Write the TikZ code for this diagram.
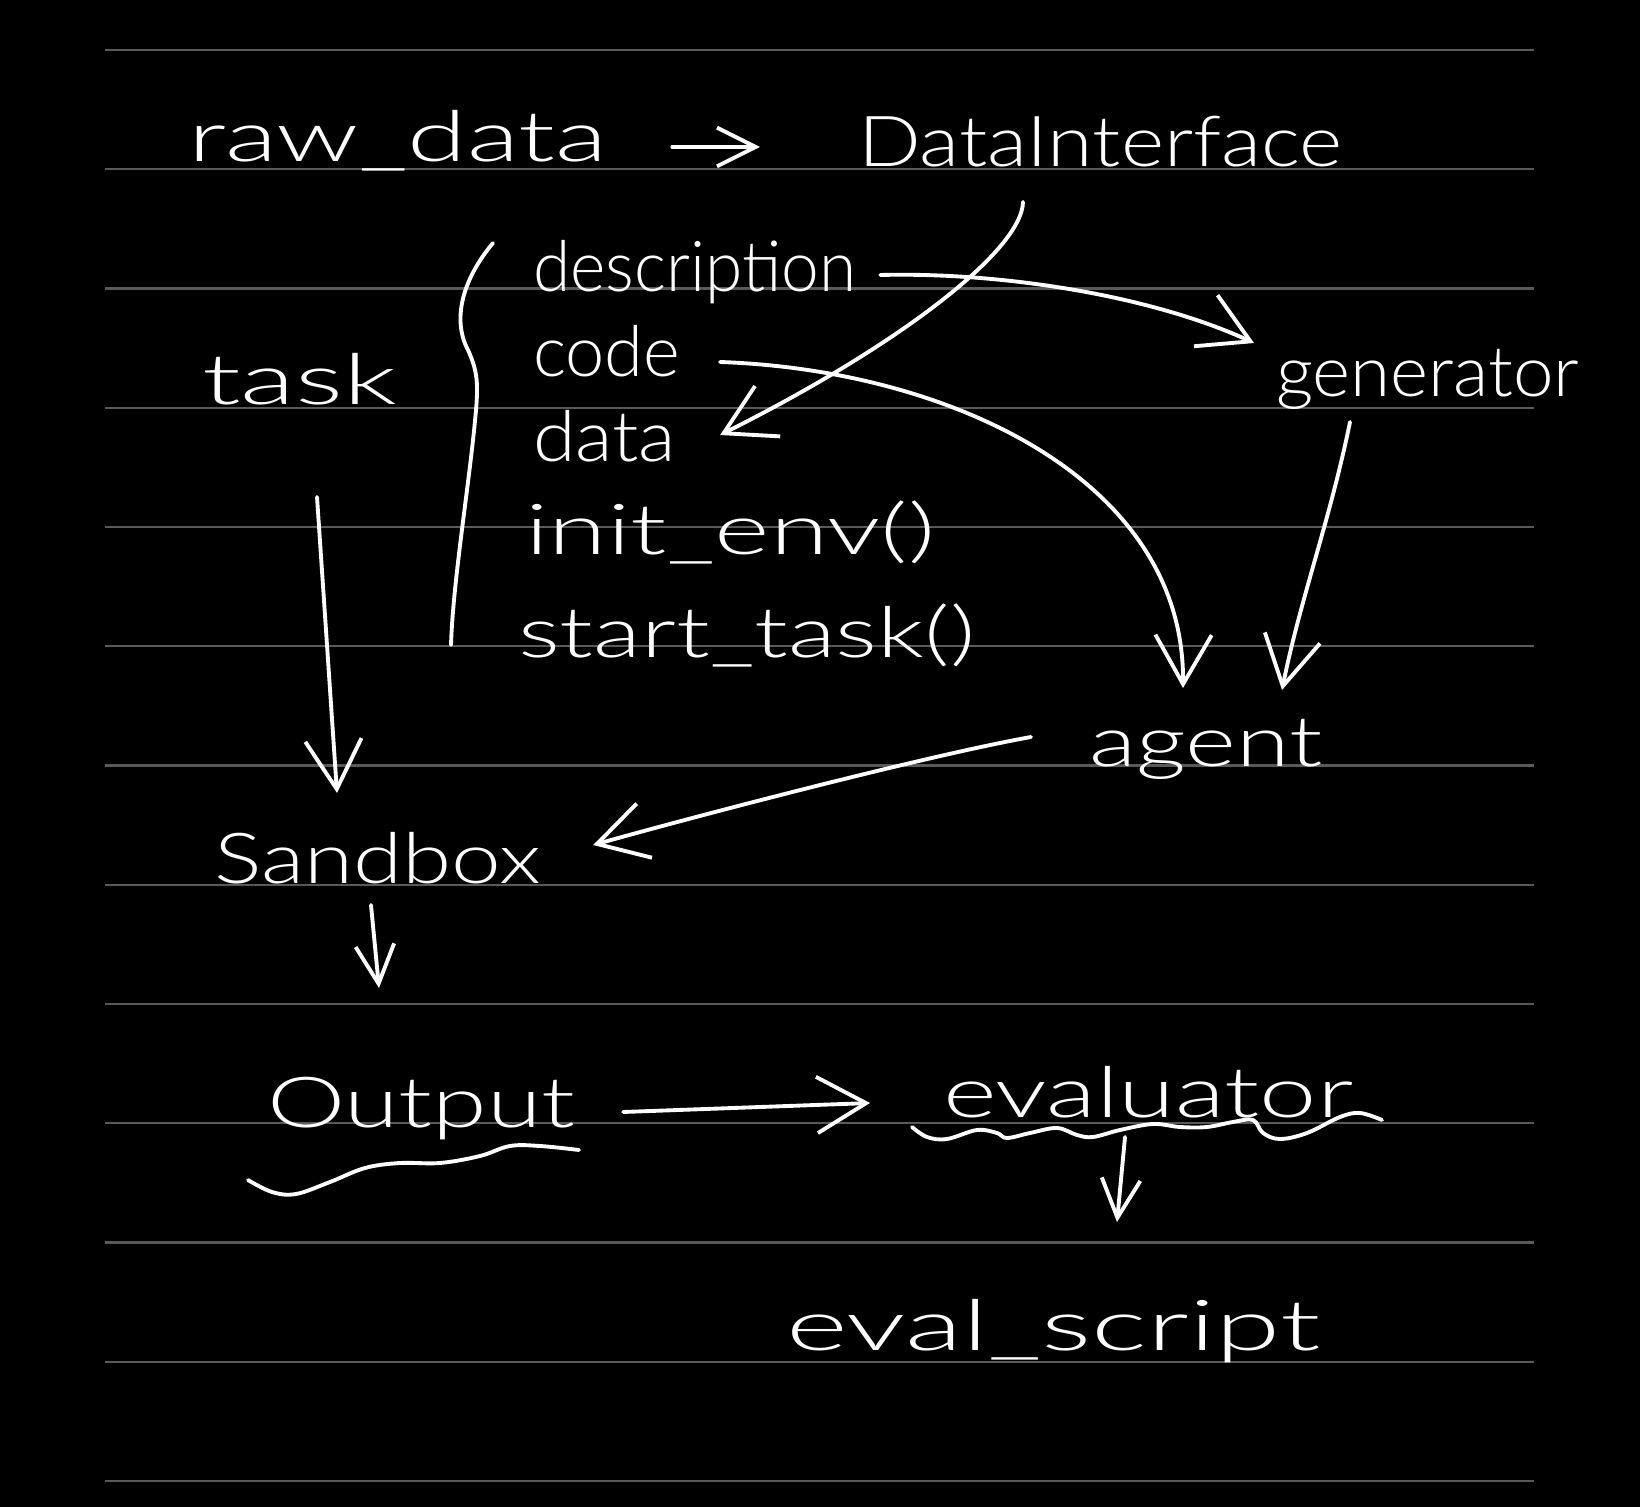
\documentclass[tikz,border=0pt]{standalone}
\usepackage{fontspec}
\setmainfont{Lato Light}
\usetikzlibrary{arrows.meta,calc}
\newcommand{\hwtext}[2]{\resizebox{#1}{\height}{#2}}
\tikzset{
  hand/.style={text=white, inner sep=0pt, outer sep=0pt, anchor=base west, font=\fontsize{20}{24}\selectfont},
  rulerline/.style={draw=white!35!black, line width=0.6pt},
  pen/.style={draw=white, line width=1.1pt, line cap=round, line join=round},
  harrow/.style={pen, -{Straight Barb[length=14pt,width=16pt,line width=1.1pt]}},
  sarrow/.style={pen, -{Straight Barb[length=11pt,width=11pt,line width=1.1pt]}}
}
\begin{document}
\begin{tikzpicture}[x=0.01cm, y=-0.01cm]
\fill[black] (0,0) rectangle (1640,1507);
\useasboundingbox (0,0) rectangle (1640,1507);
\foreach \i in {0,...,12} {
  \draw[rulerline] (105,{50+119.25*\i}) -- (1534,{50+119.25*\i});
}
% texts
\node[hand] (raw) at (188,162) {\hwtext{4.19cm}{raw\_data}};
\node[hand] (di) at (858,167) {\hwtext{4.84cm}{DataInterface}};
\node[hand] (desc) at (533,292) {\hwtext{3.23cm}{description}};
\node[hand] (code) at (533,377) {\hwtext{1.47cm}{code}};
\node[hand] (data) at (533,462) {\hwtext{1.43cm}{data}};
\node[hand] (task) at (202,405) {\hwtext{1.95cm}{task}};
\node[hand] (init) at (525,555) {\hwtext{4.10cm}{init\_env()}};
\node[hand] (start) at (518,658) {\hwtext{4.57cm}{start\_task()}};
\node[hand] (gen) at (1276,397) {\hwtext{3.03cm}{generator}};
\node[hand] (agent) at (1089,767) {\hwtext{2.33cm}{agent}};
\node[hand] (sand) at (214,883) {\hwtext{3.27cm}{Sandbox}};
\node[hand] (out) at (267,1127) {\hwtext{3.08cm}{Output}};
\node[hand] (eval) at (943,1117) {\hwtext{4.10cm}{evaluator}};
\node[hand] (es) at (786,1350) {\hwtext{5.34cm}{eval\_script}};
% brace
\draw[pen] (493,243) .. controls (462,280) and (452,320) .. (468,350)
  .. controls (478,372) and (478,385) .. (476,410)
  .. controls (470,480) and (453,580) .. (451,645);
% underlines
\draw[pen] plot[smooth, tension=0.6] coordinates {(248,1180) (272,1192) (296,1194) (330,1182) (365,1168) (400,1163) (440,1163) (480,1156) (510,1146) (540,1146) (579,1150)};
\draw[pen] plot[smooth, tension=0.6] coordinates {(912,1127) (927,1137) (947,1139) (977,1130) (997,1133) (1007,1138) (1030,1133) (1057,1128) (1077,1135) (1093,1137) (1120,1130) (1153,1124) (1180,1127) (1207,1127) (1233,1122) (1253,1120) (1263,1133) (1280,1139) (1307,1133) (1340,1117) (1360,1113) (1382,1120)};
% connectors
\draw[sarrow] ($(raw.base east)+(65,-15)$) -- ($(di.base west)+(-98,-20)$);
\draw[harrow] ($(di.base west)+(165,35)$) .. controls (1022,250) and (900,345) .. ($(data.base east)+(44,-27)$);
\draw[harrow] ($(desc.base east)+(24,-17)$) .. controls (1000,272) and (1150,295) .. ($(gen.base west)+(-22,-54)$);
\draw[harrow] ($(code.base east)+(40,-15)$) .. controls (950,370) and (1185,480) .. ($(agent.base west)+(94,-79)$);
\draw[harrow] ($(gen.base west)+(74,25)$) .. controls (1330,520) and (1300,600) .. ($(agent.base west)+(193,-77)$);
\draw[harrow] ($(task.base west)+(115,92)$) -- ($(sand.base west)+(123,-90)$);
\draw[harrow] ($(agent.base west)+(-58,-30)$) .. controls (930,755) and (700,815) .. ($(sand.base east)+(52,-38)$);
\draw[sarrow] ($(sand.base west)+(157,22)$) -- ($(out.base west)+(112,-139)$);
\draw[harrow] ($(out.base east)+(48,-15)$) -- ($(eval.base west)+(-73,-14)$);
\draw[sarrow] ($(eval.base west)+(182,20)$) -- ($(es.base west)+(331,-128)$);
\end{tikzpicture}
\end{document}
